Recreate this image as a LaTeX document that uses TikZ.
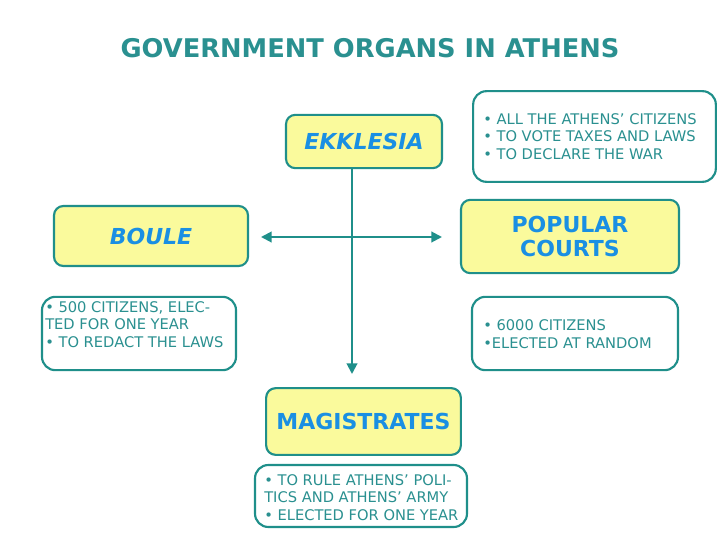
\documentclass[tikz,border=0pt]{standalone}
\usepackage{fontspec}
\setmainfont{DejaVu Sans}
\usetikzlibrary{arrows.meta}
\definecolor{teal1}{HTML}{1F8F8A}
\definecolor{tealtxt}{HTML}{2A9090}
\definecolor{blue1}{HTML}{1A8FE3}
\definecolor{yel}{HTML}{FAFA9C}
\tikzset{
  organ/.style={draw=teal1, line width=1.6pt, fill=yel, rounded corners=7pt, inner sep=0pt, align=center,
     text=blue1, font=\bfseries\fontsize{16.5}{18}\selectfont},
  infobox/.style={draw=teal1, line width=1.6pt, fill=white, rounded corners=10pt, inner sep=0pt},
  infotext/.style={text=tealtxt, font=\fontsize{11}{13}\selectfont, align=left, inner sep=0pt, anchor=base west},
  conn/.style={draw=teal1, line width=1.5pt, -{Triangle[length=8pt,width=8pt]}},
}
\begin{document}
\begin{tikzpicture}[x=0.75pt,y=-0.75pt]
\useasboundingbox (0,0) rectangle (728,546);
\node[text=tealtxt, font=\bfseries\fontsize{19.3}{22}\selectfont, anchor=base] (title) at (370,57) {GOVERNMENT ORGANS IN ATHENS};

\node[organ, minimum width=117pt, minimum height=40pt, font=\bfseries\itshape\fontsize{16.5}{18}\selectfont] (ekk) at (364,141.5) {EKKLESIA};
\node[infobox, minimum width=182pt, minimum height=68pt] (ekki) at (594.5,136.5) {};
\node[infotext] (ekkt) at (483,159) {• ALL THE ATHENS’ CITIZENS\\• TO VOTE TAXES AND LAWS\\• TO DECLARE THE WAR};

\node[organ, minimum width=145.5pt, minimum height=45pt, font=\bfseries\itshape\fontsize{16.5}{18}\selectfont] (boule) at (151,236) {BOULE};
\node[infobox, minimum width=145.5pt, minimum height=55pt] (boulei) at (139,333.5) {};
\node[infotext] (boulet) at (45,347) {• 500 CITIZENS, ELEC-\\TED FOR ONE YEAR\\• TO REDACT THE LAWS};

\node[organ, minimum width=163.5pt, minimum height=55pt] (courts) at (570,236.5) {POPULAR\\ COURTS};
\node[infobox, minimum width=154.5pt, minimum height=55pt] (courtsi) at (575,333.5) {};
\node[infotext] (courtst) at (483,348) {• 6000 CITIZENS\\•ELECTED AT RANDOM};

\node[organ, minimum width=146pt, minimum height=50pt] (mag) at (363.5,421.5) {MAGISTRATES};
\node[infobox, minimum width=159pt, minimum height=46.5pt] (magi) at (361,496) {};
\node[infotext] (magt) at (264,520) {• TO RULE ATHENS’ POLI-\\TICS AND ATHENS’ ARMY\\• ELECTED FOR ONE YEAR};

\coordinate (vtop) at (352,168);
\coordinate (vend) at (352,374);
\coordinate (hl) at (261,237);
\coordinate (hr) at (442,237);
\draw[conn] (vtop) -- (vend);
\draw[conn, {Triangle[length=8pt,width=8pt]}-{Triangle[length=8pt,width=8pt]}] (hl) -- (hr);
\end{tikzpicture}
\end{document}
